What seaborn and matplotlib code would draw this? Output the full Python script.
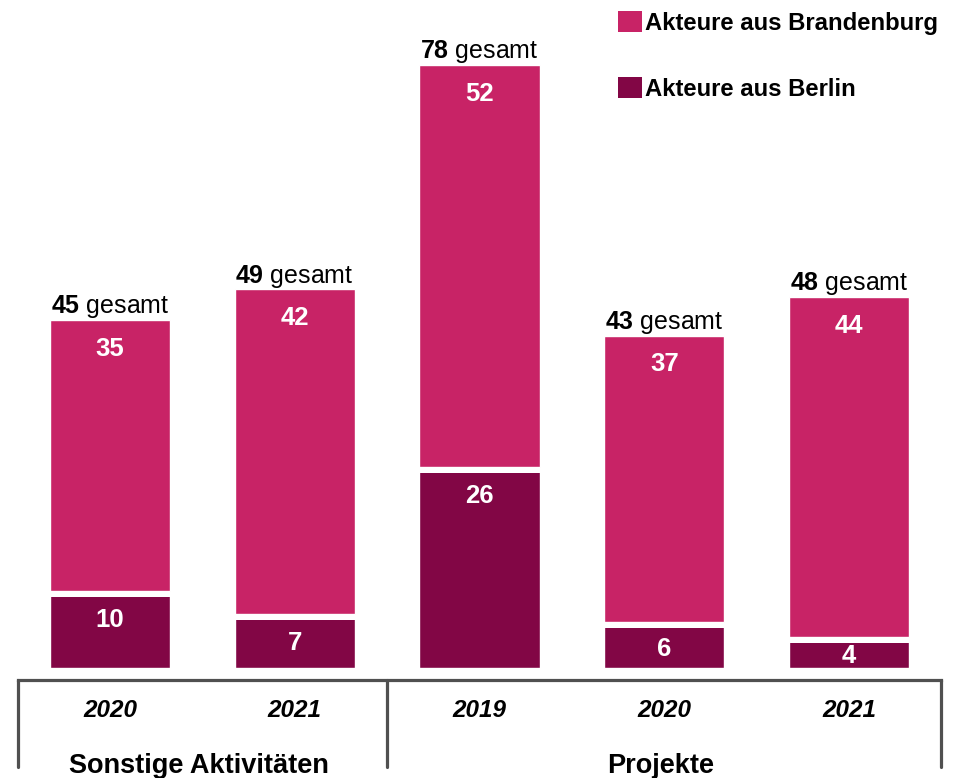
import numpy as np
import matplotlib
matplotlib.use("Agg")
import matplotlib.pyplot as plt
from matplotlib.patches import Patch
import seaborn as sns

# data
years = ["2020", "2021", "2019", "2020", "2021"]
groups = ["Sonstige Aktivitäten", "Projekte"]
group_sizes = [2, 3]
berlin = [10, 7, 26, 6, 4]
brandenburg = [35, 42, 52, 37, 44]
totals = [b + bb for b, bb in zip(berlin, brandenburg)]

c_bb = "#C82366"
c_be = "#820645"
line_c = "#505050"

sns.set_style("white")
plt.rcParams["font.family"] = ["Liberation Sans", "DejaVu Sans"]
plt.rcParams["text.color"] = "black"
plt.rcParams["mathtext.fontset"] = "custom"
plt.rcParams["mathtext.bf"] = "Liberation Sans:bold"
plt.rcParams["mathtext.rm"] = "Liberation Sans"

fig = plt.figure(figsize=(9.54, 7.78), dpi=100)
ax = fig.add_axes([0, 110 / 778, 1, 668 / 778])

pos = list(range(len(years)))
sns.barplot(x=pos, y=totals, color=c_bb, saturation=1, width=0.65, ax=ax)
sns.barplot(x=pos, y=berlin, color=c_be, saturation=1, width=0.65, ax=ax)

# px per data unit: 78 -> 603 px
unit = 603 / 78
ax.set_ylim(0, 668 / unit)
ax.set_xlim(-110 / 184.75, (954 - 110) / 184.75)
ax.set_xticks([])
ax.set_yticks([])
ax.set_xlabel("")
ax.set_ylabel("")
sns.despine(ax=ax, left=True, bottom=True)

gap = 6 / unit
for i in pos:
    # white gap between the stacked segments
    ax.hlines(berlin[i] - gap / 2, i - 0.325, i + 0.325, color="white", lw=6 * 0.72)
    ax.text(i, totals[i] - 3.7, str(brandenburg[i]), ha="center", va="center",
            color="white", fontsize=18.5, fontweight="bold")
    yb = max(berlin[i] - 3.8, berlin[i] * 0.4)
    ax.text(i, yb, str(berlin[i]), ha="center", va="center",
            color="white", fontsize=18.5, fontweight="bold")
    ax.text(i, totals[i] + 1.7, r"$\bf{%d}$ gesamt" % totals[i], ha="center",
            va="center", fontsize=18, color="black")
    ax.text(i, -5.45, years[i], ha="center", va="center", fontsize=17.5,
            fontweight="bold", fontstyle="italic", clip_on=False)

# group brackets
y_line = -12 / unit
y_bot = -99 / unit
bounds = [-0.5]
for s in group_sizes:
    bounds.append(bounds[-1] + s)
ax.plot([bounds[0], bounds[-1]], [y_line, y_line], color=line_c, lw=2.3,
        clip_on=False, solid_capstyle="projecting")
for b in bounds:
    ax.plot([b, b], [y_line, y_bot], color=line_c, lw=2.3, clip_on=False)
for g, lo, hi in zip(groups, bounds[:-1], bounds[1:]):
    ax.text((lo + hi) / 2 - 0.02, -105 / unit, g, ha="center", va="baseline",
            fontsize=19.5, fontweight="bold", clip_on=False)

handles = [Patch(facecolor=c_bb, edgecolor="none"), Patch(facecolor=c_be, edgecolor="none")]
leg = fig.legend(handles, ["Akteure aus Brandenburg", "Akteure aus Berlin"],
                 loc="upper left", bbox_to_anchor=(618 / 954, 1 - 11 / 778),
                 frameon=False, borderpad=0, borderaxespad=0,
                 handlelength=1.0, handleheight=1.0, handletextpad=0.15,
                 labelspacing=1.75, prop={"size": 17.2, "weight": "bold"})
for t in leg.get_texts():
    t.set_color("black")

fig.savefig("out.png", dpi=100)
